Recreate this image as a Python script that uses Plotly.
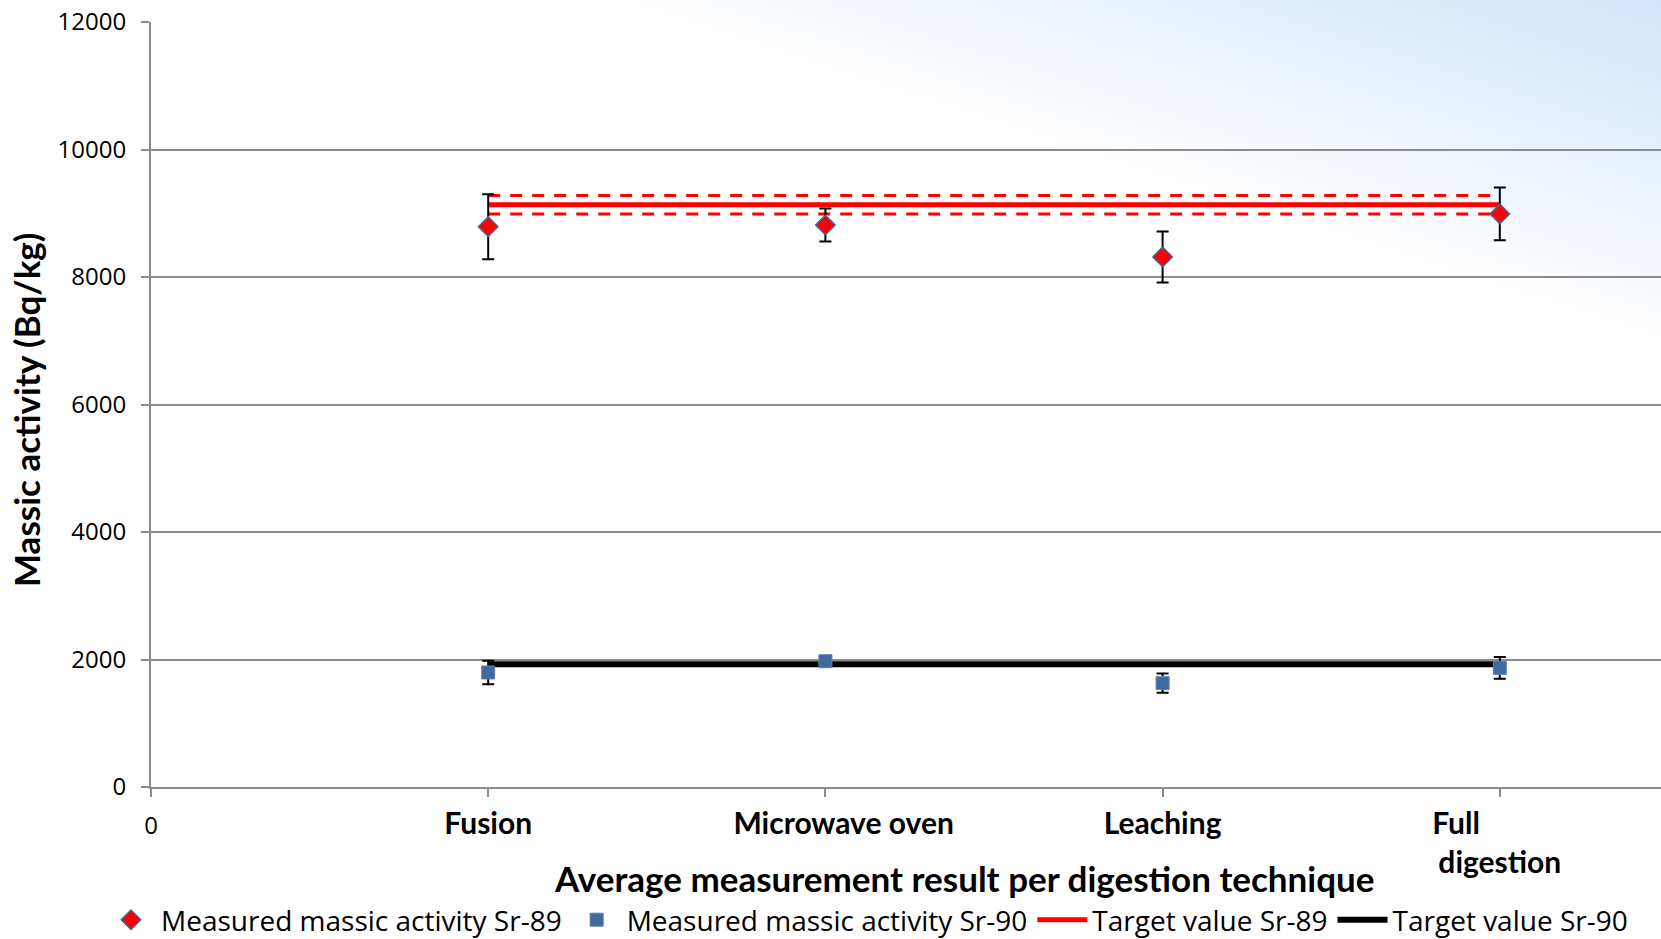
import base64
import plotly.graph_objects as go

# ---------------- data ----------------
categories = ["Fusion", "Microwave oven", "Leaching", "Full digestion"]
x_pos = [1, 2, 3, 4]

sr89_values = [8790, 8815, 8315, 8990]
sr89_errors = [510, 260, 400, 415]

sr90_values = [1796, 1973, 1629, 1869]
sr90_errors = [185, 60, 150, 170]

target_sr89 = 9135
target_sr89_unc = 145
target_sr90 = 1927

y_ticks = [0, 2000, 4000, 6000, 8000, 10000, 12000]

# ---------------- figure geometry ----------------
W, H = 1661, 939
ML, MR, MT, MB = 151, 0, 22, 152
PW, PH = W - ML - MR, H - MT - MB
x_max = PW / 337.2


def px_x(px):
    return (px - ML) / PW


def px_y(py):
    return (H - MB - py) / PH


GRID = "#8c8c8c"
BOLD_FONT = "Lato"

fig = go.Figure()

line_x = [x_pos[0], x_pos[-1]]

# target Sr-89 uncertainty band (dashed)
for off in (target_sr89_unc, -target_sr89_unc):
    fig.add_trace(go.Scatter(
        x=line_x, y=[target_sr89 + off] * 2, mode="lines",
        line=dict(color="#ff0000", width=3, dash="12px,10px"),
        showlegend=False, hoverinfo="skip"))

fig.add_trace(go.Scatter(
    x=line_x, y=[target_sr89] * 2, mode="lines",
    line=dict(color="#ff0000", width=5),
    name="Target value Sr-89", legendrank=3))

fig.add_trace(go.Scatter(
    x=line_x, y=[target_sr90] * 2, mode="lines",
    line=dict(color="#000000", width=6),
    name="Target value Sr-90", legendrank=4))

fig.add_trace(go.Scatter(
    x=x_pos, y=sr89_values, mode="markers",
    marker=dict(symbol="diamond", size=15, color="#ff0000",
                line=dict(color="#3d6596", width=1.5)),
    error_y=dict(type="data", array=sr89_errors, visible=True,
                 color="#000000", thickness=2, width=6),
    name="Measured massic activity Sr-89", legendrank=1))

fig.add_trace(go.Scatter(
    x=x_pos, y=sr90_values, mode="markers",
    marker=dict(symbol="square", size=13, color="#41699c",
                line=dict(color="#5b82b5", width=1)),
    error_y=dict(type="data", array=sr90_errors, visible=True,
                 color="#000000", thickness=2, width=6),
    name="Measured massic activity Sr-90", legendrank=2))

# ---------------- tick labels ----------------
zero_label = ('<span style="font-family:\'Open Sans\';font-size:24px;'
              'font-weight:normal">0</span>')
cat_labels = []
for c in categories:
    if c == "Full digestion":
        cat_labels.append("Full" + "\u00a0" * 12 + "<br>digestion")
    elif c == "Microwave oven":
        cat_labels.append("\u00a0" * 5 + c)
    else:
        cat_labels.append(c)

# ---------------- gradient background ----------------
svg = (
    f'<svg xmlns="http://www.w3.org/2000/svg" width="{W}" height="{H}" '
    f'viewBox="0 0 {W} {H}" preserveAspectRatio="none">'
    '<defs><linearGradient id="g" gradientUnits="userSpaceOnUse" '
    'x1="1560" y1="310" x2="1661" y2="0">'
    '<stop offset="0" stop-color="#ffffff"/>'
    '<stop offset="1" stop-color="#d2e5fa"/>'
    '</linearGradient></defs>'
    f'<rect x="0" y="0" width="{W}" height="{H}" fill="url(#g)"/></svg>'
)
svg_uri = "data:image/svg+xml;base64," + base64.b64encode(svg.encode()).decode()

fig.add_layout_image(dict(
    source=svg_uri, xref="paper", yref="paper",
    x=px_x(0), y=px_y(0), sizex=px_x(W) - px_x(0), sizey=px_y(0) - px_y(H),
    xanchor="left", yanchor="top", sizing="stretch", layer="below"))

fig.update_layout(
    width=W, height=H,
    margin=dict(l=ML, r=MR, t=MT, b=MB, pad=0, autoexpand=False),
    paper_bgcolor="#ffffff",
    plot_bgcolor="rgba(0,0,0,0)",
    showlegend=True,
    legend=dict(
        orientation="h", x=px_x(101), xanchor="left",
        y=px_y(920), yanchor="middle",
        font=dict(family="Open Sans", size=28, color="#000000"),
        bgcolor="rgba(0,0,0,0)", itemwidth=50, tracegroupgap=0),
    xaxis=dict(
        range=[0, x_max], tickvals=[0] + x_pos,
        ticktext=[zero_label] + cat_labels,
        showgrid=False, zeroline=False, automargin=False,
        showline=True, linecolor=GRID, linewidth=2,
        ticks="outside", ticklen=8, tickcolor=GRID, tickwidth=1.5,
        tickfont=dict(family=BOLD_FONT, size=30, color="#000000", weight="bold"),
        ticklabelstandoff=1,
    ),
    yaxis=dict(
        range=[0, 12000], tickvals=y_ticks, tickformat="d",
        showgrid=True, gridcolor=GRID, gridwidth=1.5, zeroline=False,
        automargin=False,
        showline=True, linecolor=GRID, linewidth=2,
        ticks="outside", ticklen=8, tickcolor=GRID, tickwidth=1.5,
        tickfont=dict(family="Open Sans", size=24, color="#000000"),
        ticklabelstandoff=10,
    ),
    annotations=[
        dict(text="Average measurement result per digestion technique",
             xref="paper", yref="paper", x=px_x(964), y=px_y(878),
             xanchor="center", yanchor="middle", showarrow=False,
             font=dict(family=BOLD_FONT, size=35, color="#000000", weight="bold")),
        dict(text="Massic activity (Bq/kg)",
             xref="paper", yref="paper", x=px_x(26), y=px_y(410),
             xanchor="center", yanchor="middle", showarrow=False, textangle=-90,
             font=dict(family=BOLD_FONT, size=35, color="#000000", weight="bold")),
    ],
)

fig.write_html(
    "out.html",
    config={"displayModeBar": False},
    post_script="document.body.style.margin='0';document.body.style.overflow='hidden';",
)
